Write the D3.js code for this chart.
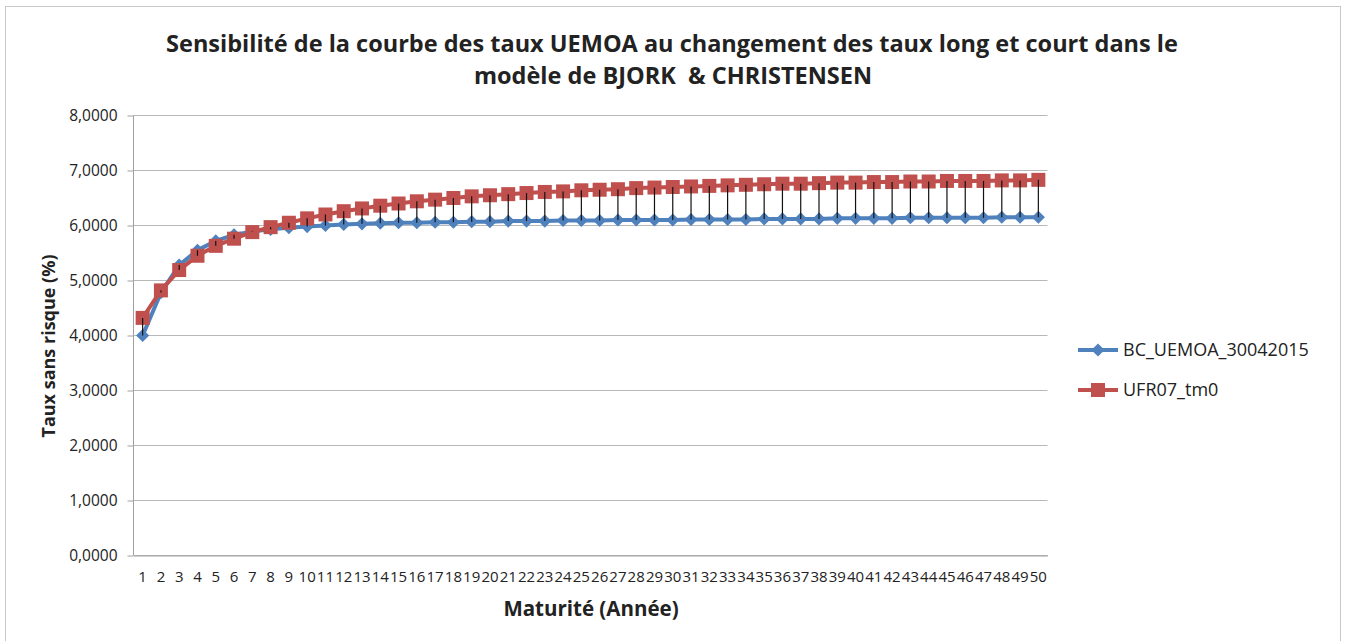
<!DOCTYPE html>
<meta charset="utf-8">
<style>
body { margin: 0; background: #fff; }
text { font-family: "Open Sans", sans-serif; fill: #222; }
.grid line { stroke: #b8b8b8; stroke-width: 1.2px; }
.axis path, .axis line { stroke: #a0a0a0; }
</style>
<svg id="chart" width="1346" height="641"></svg>
<script src="https://cdn.jsdelivr.net/npm/d3@7"></script>
<script>

// maturities 1..50
var maturities = [1,2,3,4,5,6,7,8,9,10,11,12,13,14,15,16,17,18,19,20,21,22,23,24,25,
                  26,27,28,29,30,31,32,33,34,35,36,37,38,39,40,41,42,43,44,45,46,47,48,49,50];

// BC_UEMOA_30042015
var bcUemoa = [4.00,4.78,5.28,5.55,5.72,5.83,5.89,5.93,5.96,5.98,6.00,6.02,6.03,6.04,6.05,6.05,6.06,6.06,6.07,6.07,
               6.08,6.08,6.08,6.09,6.09,6.09,6.10,6.10,6.10,6.10,6.11,6.11,6.11,6.11,6.12,6.12,6.12,6.12,6.13,6.13,
               6.13,6.13,6.14,6.14,6.14,6.14,6.14,6.15,6.15,6.15];

// UFR07_tm0
var ufr07 = [4.32,4.82,5.19,5.45,5.63,5.76,5.88,5.97,6.05,6.13,6.20,6.26,6.31,6.36,6.40,6.44,6.47,6.50,6.53,6.55,
             6.57,6.59,6.61,6.62,6.64,6.65,6.66,6.68,6.69,6.70,6.71,6.72,6.73,6.74,6.75,6.76,6.76,6.77,6.78,6.78,
             6.79,6.79,6.80,6.80,6.81,6.81,6.81,6.82,6.82,6.83];

var yTicks = [0,1,2,3,4,5,6,7,8];
var seriesNames = ["BC_UEMOA_30042015", "UFR07_tm0"];

var svg = d3.select("#chart");

// outer frame
svg.append("rect")
  .attr("x", 5.5).attr("y", 6.5)
  .attr("width", 1335).attr("height", 660)
  .attr("fill", "none").attr("stroke", "#c8c8c8");

var pLeft = 133.5, pRight = 1047.5, pTop = 115.5, pBottom = 555.5;

var x = d3.scaleBand().domain(maturities).range([pLeft, pRight]);
var y = d3.scaleLinear().domain([0, 8]).range([pBottom, pTop]);
var cx = function(d) { return x(d) + x.bandwidth() / 2; };

// gridlines
svg.append("g").attr("class", "grid")
  .selectAll("line").data(yTicks).enter().append("line")
    .attr("x1", pLeft).attr("x2", pRight)
    .attr("y1", function(d) { return y(d); })
    .attr("y2", function(d) { return y(d); });

// y axis
var yAxis = svg.append("g").attr("class", "axis")
  .attr("transform", "translate(" + pLeft + ",0)")
  .call(d3.axisLeft(y).tickValues(yTicks).tickSize(6).tickPadding(10)
    .tickFormat(function(d) { return d3.format(".4f")(d).replace(".", ","); }));
yAxis.select(".domain").attr("d", "M0," + pTop + "V" + pBottom);
yAxis.selectAll("text").style("font-size", "15.5px").style("font-family", "Open Sans").attr("fill", "#222");

// x axis
var xAxis = svg.append("g").attr("class", "axis")
  .attr("transform", "translate(0," + pBottom + ")")
  .call(d3.axisBottom(x).tickSize(0).tickPadding(16));
xAxis.select(".domain").attr("stroke", "#b8b8b8");
xAxis.selectAll("text").style("font-size", "15px").style("font-family", "Open Sans").attr("fill", "#222");

var blue = "#4f81bd", red = "#c0504d";

var line = function(vals) {
  return d3.line()
    .x(function(d, i) { return cx(maturities[i]); })
    .y(function(d) { return y(d); })(vals);
};

svg.append("path").attr("d", line(bcUemoa))
  .attr("fill", "none").attr("stroke", blue).attr("stroke-width", 4);
svg.append("g").selectAll("path").data(bcUemoa).enter().append("path")
  .attr("d", d3.symbol().type(d3.symbolDiamond2).size(110))
  .attr("transform", function(d, i) { return "translate(" + cx(maturities[i]) + "," + y(d) + ")"; })
  .attr("fill", blue);

svg.append("path").attr("d", line(ufr07))
  .attr("fill", "none").attr("stroke", red).attr("stroke-width", 4);
svg.append("g").selectAll("rect").data(ufr07).enter().append("rect")
  .attr("x", function(d, i) { return cx(maturities[i]) - 7; })
  .attr("y", function(d) { return y(d) - 7; })
  .attr("width", 14).attr("height", 14)
  .attr("fill", red);

// high-low lines
svg.append("g").selectAll("line").data(maturities).enter().append("line")
  .attr("x1", function(d) { return cx(d); })
  .attr("x2", function(d) { return cx(d); })
  .attr("y1", function(d, i) { return y(bcUemoa[i]); })
  .attr("y2", function(d, i) { return y(ufr07[i]); })
  .attr("stroke", "#111").attr("stroke-width", 1.2);

// title
var title = svg.append("text").attr("text-anchor", "middle")
  .attr("xml:space", "preserve")
  .style("font-weight", "bold").style("font-size", "23.5px");
title.append("tspan").attr("x", 672).attr("y", 52)
  .text("Sensibilité de la courbe des taux UEMOA au changement des taux long et court dans le");
title.append("tspan").attr("x", 673).attr("y", 84)
  .text("modèle de BJORK  & CHRISTENSEN");

// axis titles
svg.append("text")
  .attr("transform", "translate(55,346) rotate(-90)")
  .attr("text-anchor", "middle")
  .style("font-weight", "bold").style("font-size", "18px")
  .text("Taux sans risque (%)");

svg.append("text")
  .attr("x", 591).attr("y", 616)
  .attr("text-anchor", "middle")
  .style("font-weight", "bold").style("font-size", "20.5px")
  .text("Maturité (Année)");

// legend
var legend = svg.append("g").selectAll("g").data(seriesNames).enter().append("g")
  .attr("transform", function(d, i) { return "translate(1078," + (350 + i * 40) + ")"; });
legend.append("line")
  .attr("x1", 0).attr("x2", 40)
  .attr("stroke", function(d, i) { return i ? red : blue; })
  .attr("stroke-width", 4);
legend.append("path")
  .attr("transform", "translate(20,0)")
  .attr("d", function(d, i) {
    return i ? d3.symbol().type(d3.symbolSquare).size(196)() : d3.symbol().type(d3.symbolDiamond2).size(110)();
  })
  .attr("fill", function(d, i) { return i ? red : blue; });
legend.append("text")
  .attr("x", 45).attr("y", 6)
  .style("font-size", "18px")
  .text(function(d) { return d; });

</script>
